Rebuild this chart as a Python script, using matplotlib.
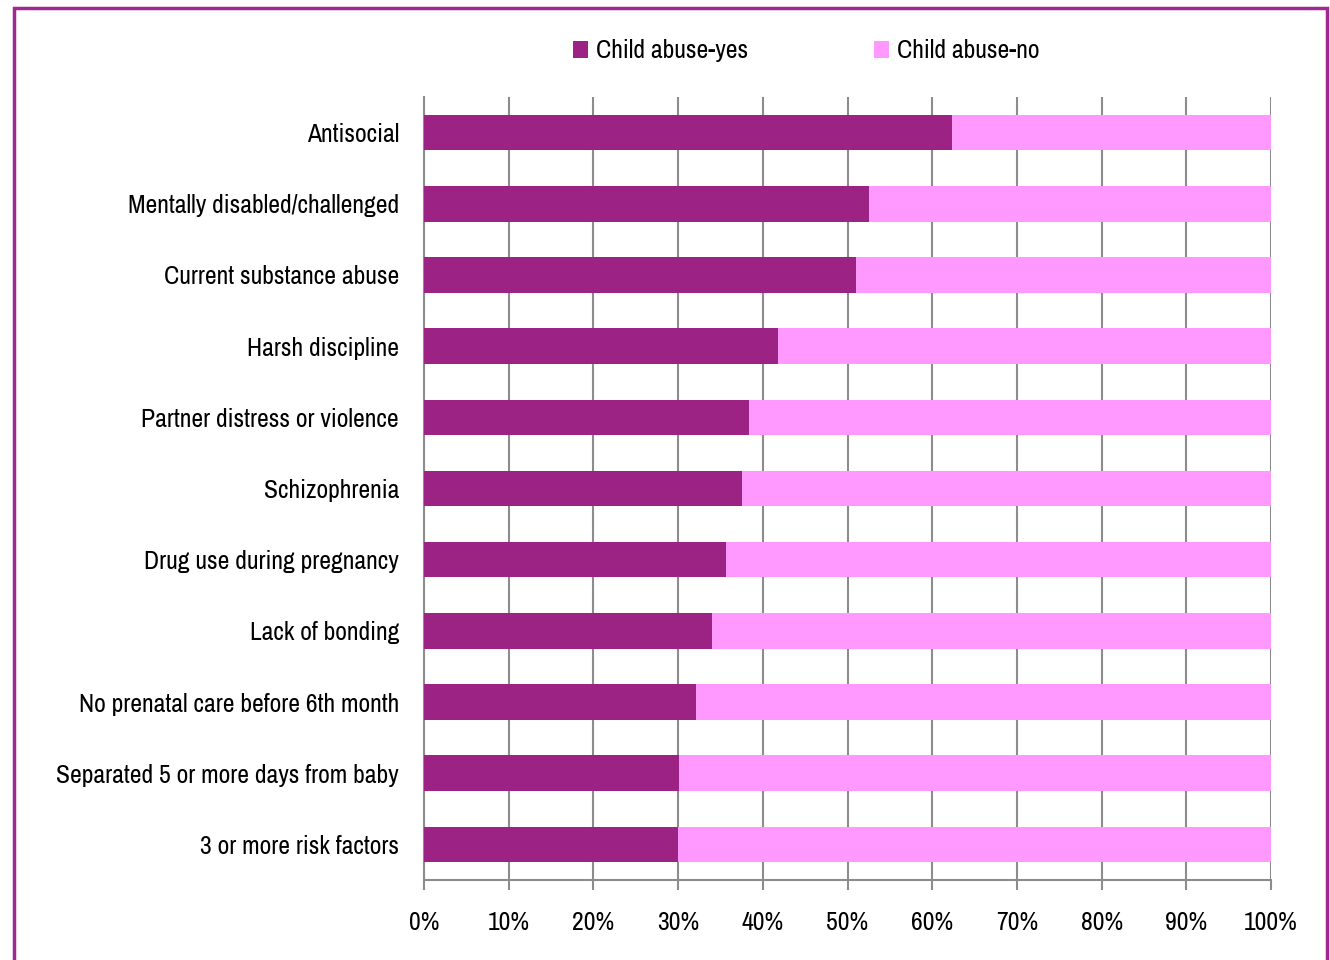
import matplotlib.pyplot as plt
from matplotlib import font_manager
from matplotlib.patches import Rectangle

# data (percent of cases)
categories = [
  'Antisocial',
  'Mentally disabled/challenged',
  'Current substance abuse',
  'Harsh discipline',
  'Partner distress or violence',
  'Schizophrenia',
  'Drug use during pregnancy',
  'Lack of bonding',
  'No prenatal care before 6th month',
  'Separated 5 or more days from baby',
  '3 or more risk factors',
]
abuse_yes = [62.3, 52.5, 51.0, 41.8, 38.4, 37.5, 35.7, 34.0, 32.1, 30.1, 30.0]
abuse_no = [100 - v for v in abuse_yes]
xticks = list(range(0, 101, 10))
xtick_labels = [f'{v}%' for v in xticks]

DARK = '#9C2383'
PINK = '#FF99FF'
GRID = '#8C8C8C'
FS = 18.5

# pick a narrow sans close to Arial Narrow
installed = {f.name for f in font_manager.fontManager.ttflist}
narrow = ['Liberation Sans Narrow', 'Arial Narrow', 'Archivo Narrow', 'PT Sans Narrow',
          'Roboto Condensed', 'Pragati Narrow', 'Fira Sans Condensed',
          'IBM Plex Sans Condensed', 'Asap Condensed', 'Open Sans Condensed']
chosen = [n for n in narrow if n in installed][:1]
plt.rcParams['font.family'] = chosen + ['DejaVu Sans']

fig = plt.figure(figsize=(13.3, 9.6), dpi=100)
ax = fig.add_axes([424 / 1330, 1 - 880 / 960, 847 / 1330, 783 / 960])

y = list(range(len(categories)))
ax.barh(y, abuse_yes, height=0.5, color=DARK, label='Child abuse-yes', zorder=3)
ax.barh(y, abuse_no, left=abuse_yes, height=0.5, color=PINK, label='Child abuse-no', zorder=3)

ax.set_xlim(0, 100)
ax.set_ylim(len(categories) - 0.5, -0.5)
ax.set_yticks(y)
ax.set_yticklabels(categories, fontsize=FS)
ax.set_xticks(xticks)
ax.set_xticklabels(xtick_labels, fontsize=FS)
ax.tick_params(axis='y', length=0, pad=18)
ax.tick_params(axis='x', length=7, width=1.5, color=GRID, pad=15, direction='out')

ax.xaxis.grid(True, color=GRID, linewidth=1.5, zorder=0)
ax.set_axisbelow(True)
for side in ['top', 'right']:
  ax.spines[side].set_visible(False)
for side in ['left', 'bottom']:
  ax.spines[side].set_color(GRID)
  ax.spines[side].set_linewidth(1.5)

fig.legend(loc='center', bbox_to_anchor=(806 / 1330, 1 - 51 / 960), ncol=2,
           frameon=False, fontsize=FS, handlelength=0.6, handleheight=0.6,
           handletextpad=0.3, columnspacing=4.9)

# purple frame around the figure
fig.add_artist(Rectangle((13.5 / 1330, -0.1), 1313 / 1330, 1.1 - 7.5 / 960,
                         transform=fig.transFigure, fill=False,
                         edgecolor='#A02890', linewidth=2.5))

fig.savefig('out.png', dpi=100)
